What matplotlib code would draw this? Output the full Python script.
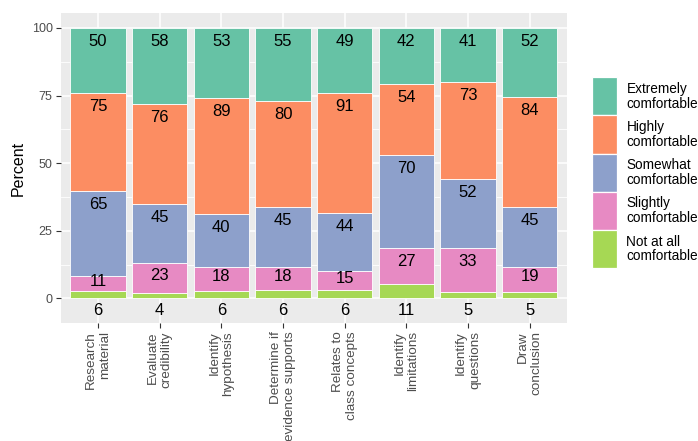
import matplotlib
matplotlib.use("Agg")
import matplotlib.pyplot as plt
from matplotlib.patches import Rectangle
import numpy as np

plt.rcParams['font.family'] = ['Liberation Sans', 'DejaVu Sans']

categories = ["Research\nmaterial", "Evaluate\ncredibility", "Identify\nhypothesis",
              "Determine if\nevidence supports", "Relates to\nclass concepts",
              "Identify\nlimitations", "Identify\nquestions", "Draw\nconclusion"]
not_at_all = [6, 4, 6, 6, 6, 11, 5, 5]
slightly = [11, 23, 18, 18, 15, 27, 33, 19]
somewhat = [65, 45, 40, 45, 44, 70, 52, 45]
highly = [75, 76, 89, 80, 91, 54, 73, 84]
extremely = [50, 58, 53, 55, 49, 42, 41, 52]

levels = ["Not at all\ncomfortable", "Slightly\ncomfortable", "Somewhat\ncomfortable",
          "Highly\ncomfortable", "Extremely\ncomfortable"]
colors = ["#A6D854", "#E78AC3", "#8DA0CB", "#FC8D62", "#66C2A5"]
y_ticks = [0, 25, 50, 75, 100]

counts = np.array([not_at_all, slightly, somewhat, highly, extremely], dtype=float)
totals = counts.sum(axis=0)
pct = counts / totals * 100
x = np.arange(1, len(categories) + 1)

W, H = 698, 441
fig = plt.figure(figsize=(W / 100, H / 100), dpi=100)
left, right, top, bottom = 61, 566.7, 13.3, 323.3
ax = fig.add_axes([left / W, 1 - bottom / H, (right - left) / W, (bottom - top) / H])
ax.set_facecolor("#EBEBEB")

ax.set_ylim(-9.2, 105.4)
ax.set_xlim(0.4, len(categories) + 0.6)

# grid
for v in [12.5, 37.5, 62.5, 87.5]:
    ax.axhline(v, color="white", lw=0.6, zorder=0)
for v in y_ticks:
    ax.axhline(v, color="white", lw=1.1, zorder=0)
for xi in x:
    ax.axvline(xi, color="white", lw=1.1, zorder=0)

bottoms = np.zeros(len(categories))
for i in range(len(levels)):
    ax.bar(x, pct[i], bottom=bottoms, width=0.9, color=colors[i],
           edgecolor="white", linewidth=0.6, zorder=2)
    tops = bottoms + pct[i]
    for j in range(len(categories)):
        if i == 0:
            ly = -4.4
        else:
            ly = tops[j] - min(5.0, 0.4 * pct[i][j])
        ax.text(x[j], ly, str(int(counts[i][j])), ha="center", va="center",
                fontsize=12, color="black", zorder=3)
    bottoms = tops

for s in ax.spines.values():
    s.set_visible(False)

ax.set_yticks(y_ticks)
ax.set_yticklabels([str(v) for v in y_ticks])
ax.set_xticks(x)
ax.set_xticklabels(categories, rotation=90, ha="center", va="top",
                   multialignment="right", linespacing=1.2)
ax.tick_params(axis="both", colors="#333333", length=3.8, width=0.8,
               labelsize=9, labelcolor="#4D4D4D", pad=2.2)
ax.tick_params(axis="x", labelsize=9.7, pad=2.0)
ax.set_ylabel("Percent", fontsize=11.5, color="black", labelpad=4)

# legend (drawn as figure-level keys)
key_x0, key_x1 = 592, 616.7
key_top, key_h = 77.3, 38.15
fs = 9.8
for k, i in enumerate(range(len(levels) - 1, -1, -1)):
    y0 = key_top + k * key_h
    fig.patches.append(Rectangle((key_x0 / W, 1 - (y0 + key_h) / H),
                                 (key_x1 - key_x0) / W, key_h / H,
                                 transform=fig.transFigure, facecolor=colors[i],
                                 edgecolor="white", linewidth=0.9))
    fig.text(626.5 / W, 1 - (y0 + key_h / 2) / H, levels[i], ha="left",
             va="center", fontsize=fs, linespacing=1.08, color="black")

fig.savefig("out.png", dpi=100)
